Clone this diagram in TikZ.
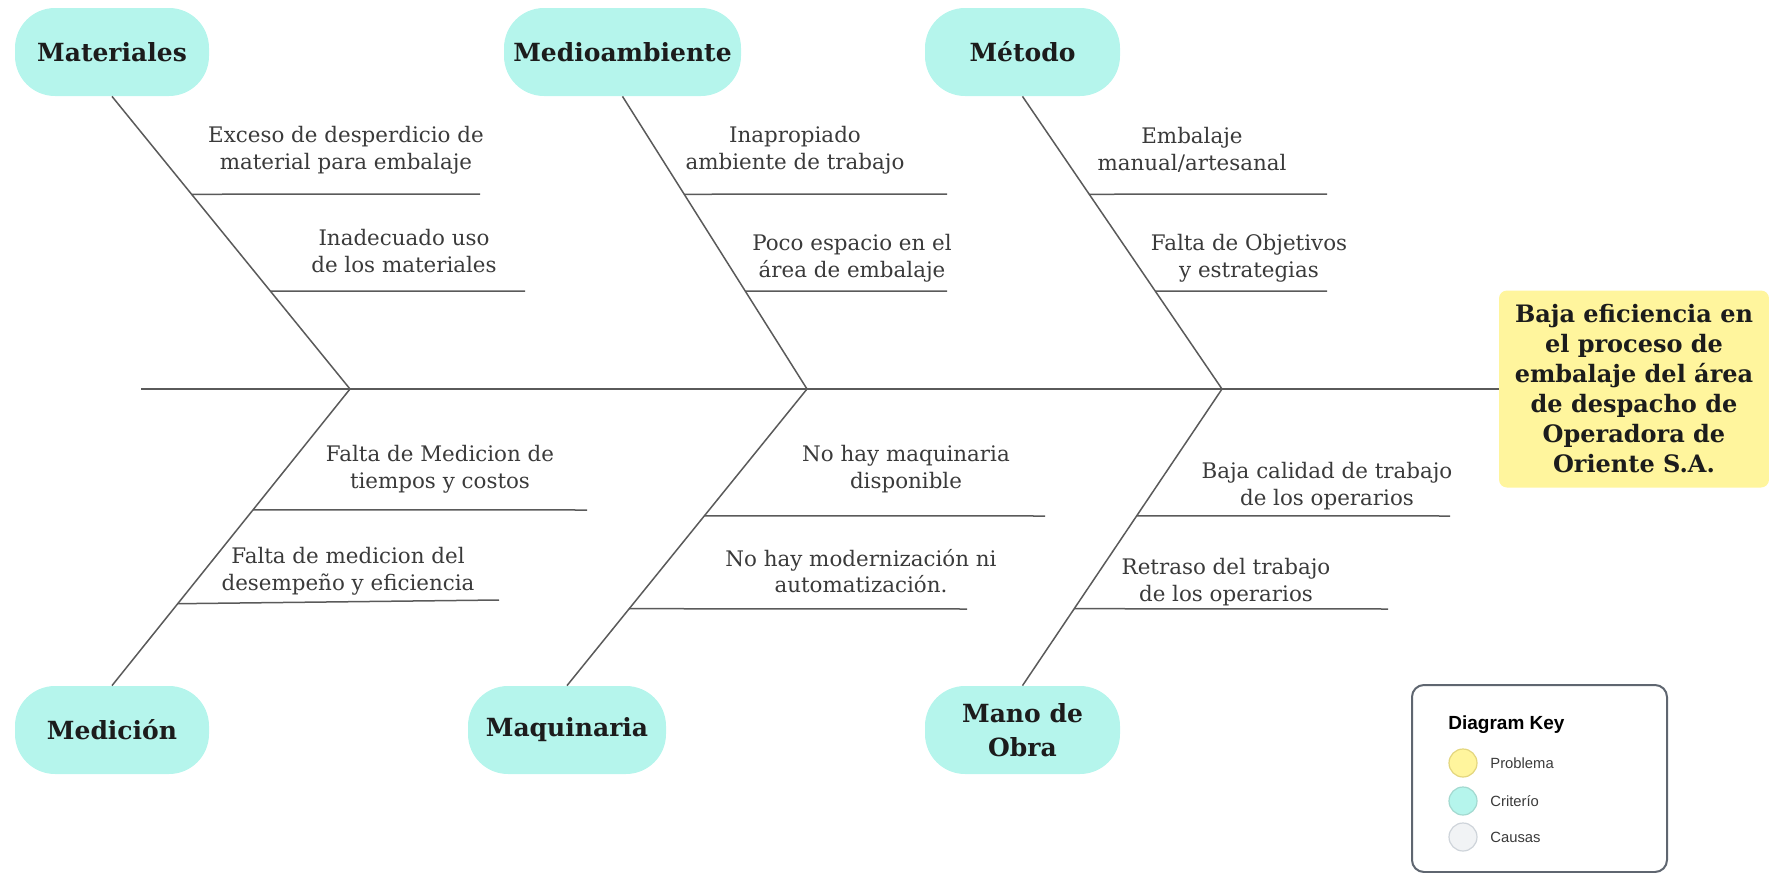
\documentclass[tikz,border=0pt]{standalone}
\usepackage{fontspec}
\setmainfont{DejaVu Serif}
\newfontfamily\legendfont{Liberation Sans}
\usetikzlibrary{calc}
\definecolor{aqua}{HTML}{B5F5EC}
\definecolor{probyellow}{HTML}{FFF59D}
\definecolor{bonegray}{HTML}{5A5A5A}
\definecolor{causetext}{HTML}{3A3A3A}
\definecolor{cattext}{HTML}{1C1C1C}
\definecolor{keyborder}{HTML}{5F6670}
\definecolor{keygray}{HTML}{F1F3F5}
\definecolor{keygrayb}{HTML}{CED4DA}
\definecolor{keyyellowb}{HTML}{E3D67E}
\definecolor{keyaquab}{HTML}{A3D9D0}
\begin{document}
\begin{tikzpicture}[x=0.5pt,y=-0.5pt,
  cat/.style={fill=aqua, rounded corners=20pt, minimum height=44pt, inner sep=0pt,
    align=center, text=cattext, font=\bfseries\fontsize{12.5}{17}\selectfont},
  cause/.style={align=center, inner sep=0pt, text=causetext,
    font=\fontsize{10.7}{13.3}\selectfont},
  problem/.style={fill=probyellow, rounded corners=4pt, minimum width=135pt,
    minimum height=98.5pt, inner sep=0pt, align=center, text=cattext,
    font=\bfseries\fontsize{12}{15}\selectfont},
  bone/.style={draw=bonegray, line width=0.75pt},
  keybox/.style={draw=keyborder, line width=1pt, rounded corners=6pt,
    minimum width=127.5pt, minimum height=93.5pt, inner sep=0pt},
  keydot/.style={circle, minimum size=14pt, inner sep=0pt, line width=0.6pt},
  keylabel/.style={anchor=west, inner sep=0pt, text=causetext,
    font=\legendfont\fontsize{7.4}{9}\selectfont}
]
\useasboundingbox (0,0) rectangle (1769,873);

% category nodes
\node[cat, minimum width=97pt]    (mat) at (112,52)    {Materiales};
\node[cat, minimum width=118.5pt] (med) at (622.5,52)  {Medioambiente};
\node[cat, minimum width=97.5pt]  (met) at (1022.5,52) {Método};
\node[cat, minimum width=97pt]    (mdc) at (112,730)   {Medición};
\node[cat, minimum width=99pt]    (maq) at (567,730)   {Maquinaria};
\node[cat, minimum width=97.5pt]  (mo)  at (1022.5,730) {Mano de\\Obra};

% problem
\node[problem] (prob) at (1634,389) {Baja eficiencia en\\el proceso de\\embalaje del área\\de despacho de\\Operadora de\\Oriente S.A.};

% spine
\coordinate (tail) at (141,389);
\coordinate (a1) at (350,389);
\coordinate (a2) at (807,389);
\coordinate (a3) at (1222,389);
\draw[bone] (tail) -- (prob.west);

% main bones
\draw[bone] (mat.south) -- (a1);
\draw[bone] (med.south) -- (a2);
\draw[bone] (met.south) -- (a3);
\draw[bone] (a1) -- (mdc.north);
\draw[bone] (a2) -- (maq.north);
\draw[bone] (a3) -- (mo.north);

% sub-bones top
\coordinate (s1) at ($(mat.south)!0.3345!(a1)$);
\coordinate (s2) at ($(mat.south)!0.6655!(a1)$);
\coordinate (s3) at ($(med.south)!0.3345!(a2)$);
\coordinate (s4) at ($(med.south)!0.6655!(a2)$);
\coordinate (s5) at ($(met.south)!0.3345!(a3)$);
\coordinate (s6) at ($(met.south)!0.6655!(a3)$);
\coordinate (e1) at (480,194);
\coordinate (e2) at (525,291);
\coordinate (e3) at (947,194);
\coordinate (e4) at (947,291);
\coordinate (e5) at (1327,194);
\coordinate (e6) at (1327,291);
\draw[bone] (s1) -- (e1);
\draw[bone] (s2) -- (e2);
\draw[bone] (s3) -- (e3);
\draw[bone] (s4) -- (e4);
\draw[bone] (s5) -- (e5);
\draw[bone] (s6) -- (e6);

% sub-bones bottom
\coordinate (s7) at ($(a1)!0.4074!(mdc.north)$);
\coordinate (s8) at ($(a1)!0.7239!(mdc.north)$);
\coordinate (s9) at ($(a2)!0.4276!(maq.north)$);
\coordinate (s10) at ($(a2)!0.7407!(maq.north)$);
\coordinate (s11) at ($(a3)!0.4276!(mo.north)$);
\coordinate (s12) at ($(a3)!0.7407!(mo.north)$);
\coordinate (e7) at (587,510);
\coordinate (e8) at (499,600);
\coordinate (e9) at (1045,516);
\coordinate (e10) at (967,609);
\coordinate (e11) at (1450,516);
\coordinate (e12) at (1388,609);
\draw[bone] (s7) -- (e7);
\draw[bone] (s8) -- (e8);
\draw[bone] (s9) -- (e9);
\draw[bone] (s10) -- (e10);
\draw[bone] (s11) -- (e11);
\draw[bone] (s12) -- (e12);

% cause texts
\node[cause] (t1) at (346,150) {Exceso de desperdicio de\\material para embalaje};
\node[cause] (t2) at (404,251) {Inadecuado uso\\de los materiales};
\node[cause] (t3) at (795,150) {Inapropiado\\ambiente de trabajo};
\node[cause] (t4) at (852,258) {Poco espacio en el\\área de embalaje};
\node[cause] (t5) at (1192,150) {Embalaje\\manual/artesanal};
\node[cause] (t6) at (1249,258) {Falta de Objetivos\\y estrategias};
\node[cause] (t7) at (440,469) {Falta de Medicion de\\tiempos y costos};
\node[cause] (t8) at (348,571) {Falta de medicion del\\desempeño y eficiencia};
\node[cause] (t9) at (906,469) {No hay maquinaria\\disponible};
\node[cause] (t10) at (861,571) {No hay modernización ni\\automatización.};
\node[cause] (t11) at (1327,486) {Baja calidad de trabajo\\de los operarios};
\node[cause] (t12) at (1226,582) {Retraso del trabajo\\de los operarios};

% legend
\node[keybox] (key) at (1539.5,778.5) {};
\node[anchor=west, inner sep=0pt, text=black,
  font=\legendfont\bfseries\fontsize{9.5}{11}\selectfont] (keyt) at (1448,725) {Diagram Key};
\node[keydot, fill=probyellow, draw=keyyellowb] (k1) at (1463,763) {};
\node[keydot, fill=aqua, draw=keyaquab] (k2) at (1463,801) {};
\node[keydot, fill=keygray, draw=keygrayb] (k3) at (1463,837) {};
\node[keylabel] (k1l) at (1490,763) {Problema};
\node[keylabel] (k2l) at (1490,801) {Criterío};
\node[keylabel] (k3l) at (1490,837) {Causas};
\end{tikzpicture}
\end{document}
